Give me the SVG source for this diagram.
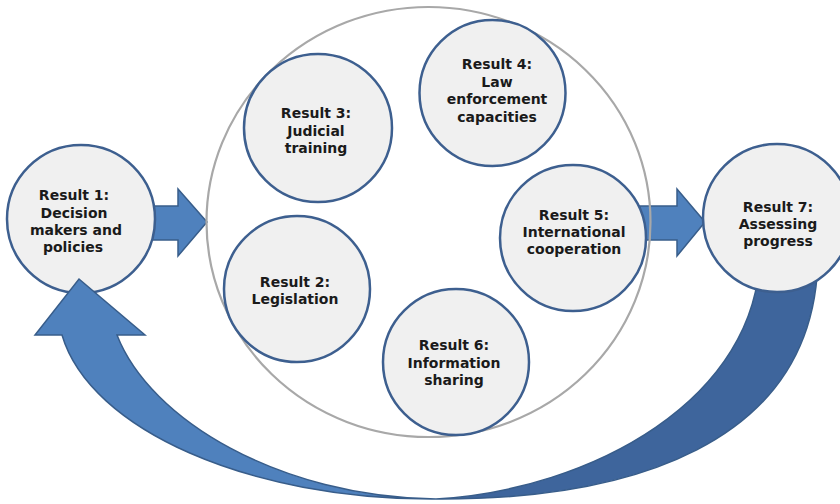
<svg xmlns="http://www.w3.org/2000/svg" width="840" height="504" viewBox="0 0 840 504">
<style>
.node{fill:#f0f0f0;stroke:#3d5f8f;stroke-width:2.5}
.arrow{fill:#4f81bd;stroke:#385d8a;stroke-width:1.5;stroke-linejoin:miter}
.back{fill:#3e659c;stroke:#385d8a;stroke-width:1.5}
.ring{fill:none;stroke:#a8a8a8;stroke-width:2.2}
text{font-family:"DejaVu Sans","Liberation Sans",sans-serif;font-weight:bold;font-size:14px;fill:#1a1a1a;text-anchor:middle}
</style>
<rect width="840" height="504" fill="#ffffff"/>
<g id="connectors">
  <path id="loop-back" class="back" d="M436,499 C620,500 820,450 818,250 L760,250 C760,400 590,490 436,499 Z"/>
  <path id="arrow-1-group" class="arrow" d="M148,206 L178,206 L178,189 L207,222 L178,256 L178,240 L148,240 Z"/>
  <path id="arrow-group-7" class="arrow" d="M640,206 L677,206 L677,189 L705,222 L677,256 L677,240 L640,240 Z"/>
</g>
<g id="group-ring"><ellipse class="ring" cx="428.5" cy="222" rx="222" ry="215"/></g>
<g id="result1"><circle class="node" cx="81" cy="219" r="74"/>
  <text x="74" y="200">Result 1:</text><text x="74" y="218">Decision</text><text x="76" y="235">makers and</text><text x="73" y="252">policies</text></g>
<g id="result3"><circle class="node" cx="318" cy="128" r="74"/>
  <text x="316" y="118">Result 3:</text><text x="316" y="136">Judicial</text><text x="316" y="153">training</text></g>
<g id="result4"><circle class="node" cx="492.5" cy="93" r="73"/>
  <text x="497" y="69">Result 4:</text><text x="497" y="87">Law</text><text x="497" y="104">enforcement</text><text x="497" y="122">capacities</text></g>
<g id="result5"><circle class="node" cx="573" cy="238" r="73"/>
  <text x="574" y="220">Result 5:</text><text x="574" y="237">International</text><text x="574" y="254">cooperation</text></g>
<g id="result2"><circle class="node" cx="297" cy="289" r="73"/>
  <text x="295" y="287">Result 2:</text><text x="295" y="304">Legislation</text></g>
<g id="result6"><circle class="node" cx="456" cy="362" r="73"/>
  <text x="454" y="350">Result 6:</text><text x="454" y="368">Information</text><text x="454" y="385">sharing</text></g>
<g id="result7"><circle class="node" cx="777" cy="218" r="74"/>
  <text x="778" y="212">Result 7:</text><text x="778" y="229">Assessing</text><text x="778" y="246">progress</text></g>
<g id="loop-front"><path class="arrow" d="M79,279 L145,335 L117,335 C150,420 280,497 436,499 C250,500 90,430 62,335 L35,335 Z"/></g>
</svg>
